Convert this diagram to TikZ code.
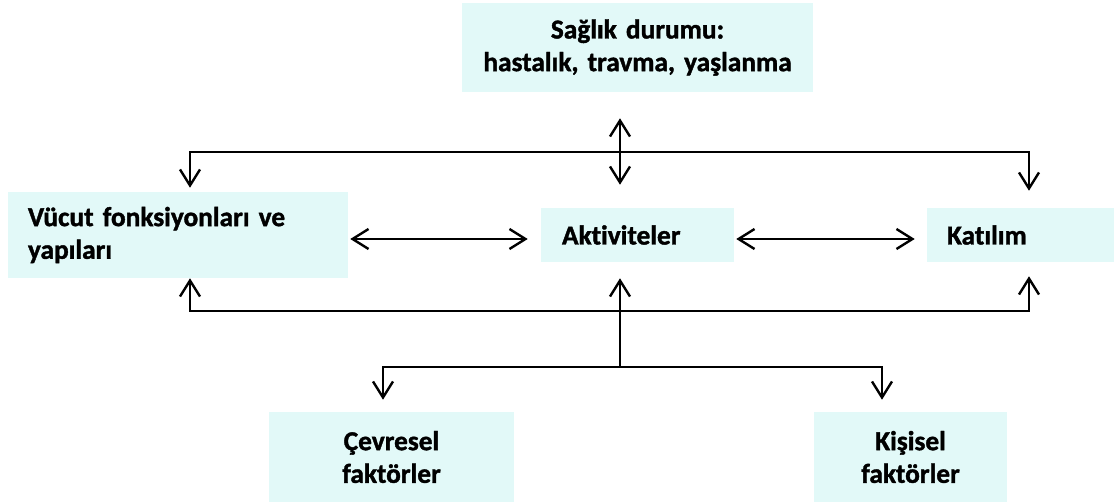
\documentclass[tikz,border=0pt]{standalone}
\usepackage{fontspec}
\setmainfont{Carlito}[BoldFont={Carlito Bold}, BoldFeatures={FakeBold=1.4}, Ligatures=NoCommon]
\usetikzlibrary{arrows.meta}

\definecolor{boxfill}{RGB}{226,249,248}

\tikzset{
  box/.style={fill=boxfill, draw=none, inner ysep=0pt, font=\fontsize{20.5}{24.5}\selectfont\bfseries},
  arr/.style={line width=1.8pt, {Straight Barb[length=12pt,width=15pt,line width=1.8pt]}-{Straight Barb[length=12pt,width=15pt,line width=1.8pt]}},
  uparr/.style={line width=1.8pt, -{Straight Barb[length=12pt,width=15pt,line width=1.8pt]}}
}

\begin{document}
\begin{tikzpicture}[x=0.75pt,y=0.75pt,yscale=-1,xscale=1]
\useasboundingbox (0,0) rectangle (1114,502);

% Text Node
\node (saglik) [box, minimum width=263.25pt, minimum height=66.75pt, text width=250pt, align=center] at (637.5,47.5) {Sağlık durumu:\\hastalık, travma, yaşlanma};
% Text Node
\node (vucut) [box, minimum width=255pt, minimum height=64.5pt, inner xsep=15pt, text width=225pt, align=left] at (178,235) {Vücut fonksiyonları ve\\yapıları};
% Text Node
\node (aktivite) [box, minimum width=144.75pt, minimum height=40.5pt, inner xsep=15.75pt, text width=113.25pt, align=left] at (637.5,235) {Aktiviteler};
% Text Node
\node (katilim) [box, minimum width=140.25pt, minimum height=40.5pt, inner xsep=15pt, text width=110.25pt, align=left] at (1020.5,235) {Katılım};
% Text Node
\node (cevresel) [box, minimum width=183.75pt, minimum height=67.5pt, text width=160pt, align=center] at (391.5,457) {Çevresel\\faktörler};
% Text Node
\node (kisisel) [box, minimum width=144.75pt, minimum height=67.5pt, text width=120pt, align=center] at (910.5,457) {Kişisel\\faktörler};

% bus corners
\coordinate (topL) at (190,152);
\coordinate (topR) at (1029,152);
\coordinate (topM) at (620,152);
\coordinate (botL) at (190,311);
\coordinate (botR) at (1029,311);
\coordinate (split) at (620,367);
\coordinate (spL) at (383,367);
\coordinate (spR) at (882,367);

%Straight Lines
\draw [arr, shorten <=19.5pt, shorten >=17.25pt] (topM |- saglik.south) -- (topM |- aktivite.north);
%Straight Lines
\draw [arr, shorten <=3pt, shorten >=12.75pt] (vucut.north -| topL) -- (topL) -- (topR) -- (katilim.north -| topR);
%Straight Lines
\draw [arr, shorten <=1.5pt, shorten >=9.75pt] ([yshift=3pt]vucut.east) -- ([yshift=3pt]aktivite.west);
%Straight Lines
\draw [arr, shorten <=1.5pt, shorten >=9pt] ([yshift=3pt]aktivite.east) -- ([yshift=3pt]katilim.west);
%Straight Lines
\draw [arr, shorten >=10.5pt] (vucut.south -| botL) -- (botL) -- (botR) -- (katilim.south -| botR);
%Straight Lines
\draw [uparr, shorten >=12pt] (split) -- (aktivite.south -| split);
%Straight Lines
\draw [arr, shorten <=9pt, shorten >=9pt] (cevresel.north -| spL) -- (spL) -- (spR) -- (kisisel.north -| spR);

\end{tikzpicture}
\end{document}
